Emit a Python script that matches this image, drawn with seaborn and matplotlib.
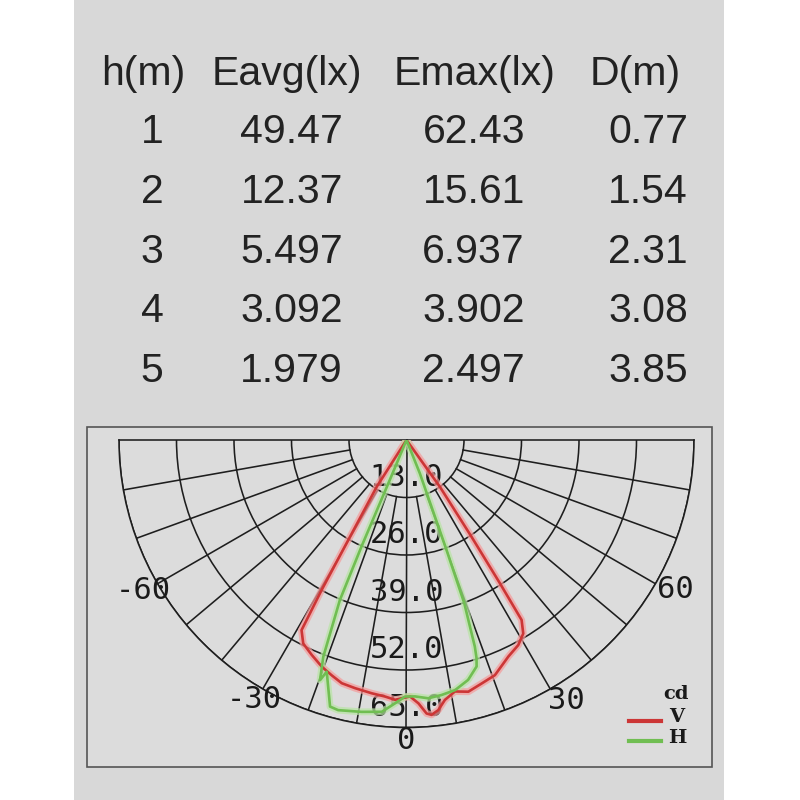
import numpy as np
import pandas as pd
import seaborn as sns
import matplotlib.pyplot as plt
from matplotlib.patches import Rectangle
from matplotlib.lines import Line2D

# Table values
heights = ['1', '2', '3', '4', '5']
e_avg = ['49.47', '12.37', '5.497', '3.092', '1.979']
e_max = ['62.43', '15.61', '6.937', '3.902', '2.497']
dist = ['0.77', '1.54', '2.31', '3.08', '3.85']
headers = ['h(m)', 'Eavg(lx)', 'Emax(lx)', 'D(m)']

# Polar intensity curves (angle in degrees, intensity in cd)
v_theta = [-34, -32.5, -30.2, -29.5, -28.9, -26.9, -23.8, -20.5, -17.7, -14.9, -11.7, -7.8,
           -4.8, -2.5, -1.1, 0.8, 2.6, 4.2, 5.2, 6.7, 8.4, 10.9, 13.8, 17.2, 20.6, 25.2,
           28.6, 31.1, 32.6, 33.1, 33.9, 35.5, 37]
v_cd = [0, 12.5, 26.2, 39.0, 49.1, 51.6, 53.1, 54.7, 55.8, 56.9, 57.3, 57.8,
        58.2, 58.8, 58.4, 58.0, 59.6, 62.0, 62.4, 61.5, 59.4, 57.9, 58.6, 57.6, 56.8, 54.1,
        52.8, 51.1, 48.3, 38.7, 26.3, 13.0, 0]
h_theta = [-24, -22.7, -22.9, -22.6, -21.0, -19.8, -19.0, -16.0, -14.2, -9.4, -5.2, -2.5,
           -0.3, 1.9, 4.8, 7.8, 11.0, 14.4, 17.2, 17.8, 18.3, 19.5, 20.0, 21.8, 23]
h_cd = [0, 9.8, 26.2, 39.2, 52.5, 57.7, 55.4, 62.7, 63.0, 62.3, 61.7, 59.6,
        58.0, 58.0, 58.6, 58.2, 57.6, 56.0, 53.6, 51.8, 49.2, 39.1, 26.5, 8.1, 0]

r_ticks = [13, 26, 39, 52, 65]
angle_labels = [-60, -30, 0, 30, 60]
# label spots (deg, cd)
angle_label_pos = [(-60.2, 68.5), (-30.4, 68.0), (0, 68.0), (31.5, 69.0), (61.0, 69.5)]

W = 800.0
fig = plt.figure(figsize=(8, 8), dpi=100)
fig.patch.set_facecolor('white')

# gray panel and diagram frame
fig.patches.append(Rectangle((74 / W, 0), 650 / W, 1, transform=fig.transFigure,
                             facecolor='#d8d8d8', edgecolor='none', zorder=-2))
fig.patches.append(Rectangle((87 / W, 1 - 767 / W), 625 / W, 340 / W, transform=fig.transFigure,
                             facecolor='#dcdcdc', edgecolor='#555555', lw=1.2, zorder=-1))

# table
tfont = dict(family='Liberation Sans', size=29.5, color='#222222')
head_x = [143, 287, 475, 635]
for x, h in zip(head_x, headers):
    fig.text(x / W, 1 - 85 / W, h, ha='center', va='baseline', **tfont)
row_base = [143, 203, 263, 322, 382]
for i, y in enumerate(row_base):
    fig.text(152 / W, 1 - y / W, heights[i], ha='center', va='baseline', **tfont)
    fig.text(343 / W, 1 - y / W, e_avg[i], ha='right', va='baseline', **tfont)
    fig.text(525 / W, 1 - y / W, e_max[i], ha='right', va='baseline', **tfont)
    fig.text(688 / W, 1 - y / W, dist[i], ha='right', va='baseline', **tfont)

# polar diagram: half disc centred at (406.5, 440) px, radius 287.5 px
ax = fig.add_axes([119 / W, (800 - 871.25) / W, 575 / W, 575 / W], projection='polar')
ax.set_facecolor('none')
ax.set_theta_zero_location('S')
ax.set_thetamin(-90)
ax.set_thetamax(90)
ax.set_rlim(0, 65)
ax.set_rticks(r_ticks)
ax.set_yticklabels([])
ax.set_xticks([])
grid_c = '#1e1e1e'
ax.yaxis.grid(True, color=grid_c, lw=1.15)
for sp in ax.spines.values():
    sp.set_color(grid_c)
    sp.set_linewidth(1.15)

for a in range(-80, 90, 10):
    r0 = 0 if a == 0 else 13
    ax.plot([np.deg2rad(a)] * 2, [r0, 65], color=grid_c, lw=1.15, zorder=1)

mono = dict(family='DejaVu Sans Mono', size=22, color='#1a1a1a')
for r in r_ticks:
    ax.text(0, r - 4.6, f'{r:.1f}', ha='center', va='center', zorder=2, **mono)
for a, (t, r) in zip(angle_labels, angle_label_pos):
    ax.text(np.deg2rad(t), r, str(a), ha='center', va='center', **mono)

red, red_glow = '#cc3636', '#f59a9a'
green, green_glow = '#70be52', '#b8e4a4'
dv = pd.DataFrame({'theta': np.deg2rad(v_theta), 'cd': v_cd})
dh = pd.DataFrame({'theta': np.deg2rad(h_theta), 'cd': h_cd})
for d, c, g in [(dv, red, red_glow), (dh, green, green_glow)]:
    sns.lineplot(data=d, x='theta', y='cd', sort=False, estimator=None, ax=ax,
                 color=g, lw=5, alpha=0.7, zorder=3)
    sns.lineplot(data=d, x='theta', y='cd', sort=False, estimator=None, ax=ax,
                 color=c, lw=1.9, zorder=4)
ax.set_xlabel('')
ax.set_ylabel('')

# legend
lfont = dict(family='DejaVu Serif', weight='bold', size=14, color='#1a1a1a')
fig.text(689 / W, 1 - 694 / W, 'cd', ha='right', va='center', **lfont)
fig.text(677 / W, 1 - 717 / W, 'V', ha='center', va='center', **lfont)
fig.text(677 / W, 1 - 738 / W, 'H', ha='center', va='center', **lfont)
fig.lines.append(Line2D([629 / W, 661 / W], [1 - 721 / W] * 2, transform=fig.transFigure,
                        color=red, lw=3))
fig.lines.append(Line2D([629 / W, 661 / W], [1 - 741 / W] * 2, transform=fig.transFigure,
                        color=green, lw=3))

fig.savefig('out.png', dpi=100)
